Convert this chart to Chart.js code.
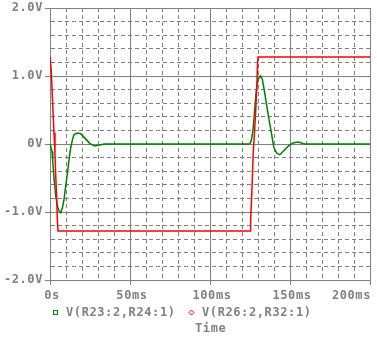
<!DOCTYPE html>
<html>
<head>
<meta charset="utf-8">
<script src="https://cdn.jsdelivr.net/npm/chart.js@4"></script>
<style>
  body { margin: 0; background: #fff; }
  #wrap { width: 377px; height: 337px; }
</style>
</head>
<body>
<div id="wrap"><canvas id="scope" width="377" height="337"></canvas></div>
<script>
// Time in ms, voltage in V
const greenTimes = [0, 1.25, 1.7, 2.5, 3.6, 4.6, 5.6, 6.7, 7.75, 8.75, 9.8, 10.9, 11.9, 12.9, 14, 15, 17.1, 19.2, 21.7, 24.8, 27.9, 31, 34,
    124.8, 125.9, 126.9, 127.9, 129, 130, 131.5, 132.75, 134.2, 135.2, 136.9, 138.4, 139.8, 141.5, 143.6, 145.6, 148.75, 151.9, 155, 159.2, 200];
const greenValues = [0, -0.11, -0.25, -0.5, -0.77, -0.91, -0.98, -1.01, -0.94, -0.82, -0.62, -0.43, -0.23, -0.06, 0.06, 0.14, 0.16, 0.15, 0.09, 0.01, -0.03, -0.015, 0,
    0, 0.06, 0.21, 0.5, 0.8, 0.95, 1.0, 0.95, 0.75, 0.6, 0.36, 0.16, -0.04, -0.13, -0.16, -0.11, -0.035, 0.015, 0.03, 0, 0];

const redTimes = [0, 0.7, 1.3, 1.9, 2.5, 3.1, 3.6, 4.2, 4.6, 5,
    125, 125.4, 126, 126.5, 127, 127.8, 128.5, 129.2, 129.6, 130, 200];
const redValues = [1.28, 1.11, 0.8, 0.46, 0.17, -0.14, -0.48, -0.8, -1.12, -1.28,
    -1.28, -1.12, -0.8, -0.49, -0.14, 0.17, 0.46, 0.8, 1.11, 1.28, 1.28];

const seriesNames = ['V(R23:2,R24:1)', 'V(R26:2,R32:1)'];
const xTickLabels = ['0s', '50ms', '100ms', '150ms', '200ms'];
const yTickLabels = ['-2.0V', '-1.0V', '0V', '1.0V', '2.0V'];
const xAxisTitle = 'Time';

const GRAY = '#808080';
const GREEN = '#008000';
const RED = '#ff0000';
const FONT = 'bold 12px "DejaVu Sans Mono"';

function toPoints(xs, ys) {
    return xs.map((x, i) => ({x: x, y: ys[i]}));
}

function isMajor(v, step) {
    const r = v / step;
    return Math.abs(r - Math.round(r)) < 1e-6;
}

// text for tick labels, legend and axis title
const labelPlugin = {
    id: 'labels',
    afterDraw(chart) {
        const ctx = chart.ctx;
        const xs = chart.scales.x;
        const ys = chart.scales.y;
        ctx.save();
        ctx.font = FONT;
        ctx.fillStyle = GRAY;
        ctx.letterSpacing = '0.6px';
        ctx.textBaseline = 'middle';

        ctx.textAlign = 'right';
        yTickLabels.forEach((t, i) => {
            ctx.fillText(t, 43, ys.getPixelForValue(-2 + i));
        });

        xTickLabels.forEach((t, i) => {
            const px = xs.getPixelForValue(i * 50);
            if (i === xTickLabels.length - 1) {
                ctx.textAlign = 'right';
                ctx.fillText(t, px + 1, 296);
            } else {
                ctx.textAlign = 'center';
                ctx.fillText(t, px + 2, 296);
            }
        });

        // legend
        ctx.textAlign = 'left';
        ctx.fillText(seriesNames[0], 66, 313);
        ctx.fillText(seriesNames[1], 202, 313);
        ctx.fillText(xAxisTitle, 195, 329);

        ctx.lineWidth = 1;
        ctx.strokeStyle = GREEN;
        ctx.strokeRect(53.5, 310.5, 4, 4);
        ctx.strokeStyle = RED;
        ctx.beginPath();
        ctx.moveTo(191.5, 310);
        ctx.lineTo(194, 312.5);
        ctx.lineTo(191.5, 315);
        ctx.lineTo(189, 312.5);
        ctx.closePath();
        ctx.stroke();
        ctx.restore();
    }
};

const scopeChart = new Chart(document.getElementById('scope'), {
    type: 'line',
    data: {
        datasets: [{
            label: seriesNames[0],
            data: toPoints(greenTimes, greenValues),
            borderColor: GREEN,
            borderWidth: 1.5,
            pointRadius: 0,
            tension: 0,
            order: 1
        }, {
            label: seriesNames[1],
            data: toPoints(redTimes, redValues),
            borderColor: RED,
            borderWidth: 1.5,
            pointRadius: 0,
            tension: 0,
            order: 0
        }]
    },
    options: {
        responsive: false,
        animation: false,
        layout: {
            padding: {left: 45, top: 8, right: 7, bottom: 52}
        },
        plugins: {
            legend: {display: false},
            tooltip: {enabled: false}
        },
        scales: {
            x: {
                type: 'linear',
                min: 0,
                max: 200,
                ticks: {display: false, stepSize: 10, maxTicksLimit: 100},
                grid: {
                    color: GRAY,
                    lineWidth: 1,
                    drawTicks: true,
                    tickLength: 5,
                    tickColor: (c) => (c.tick && isMajor(c.tick.value, 50)) ? GRAY : 'rgba(0,0,0,0)'
                },
                border: {
                    color: GRAY,
                    dash: (c) => (c.tick && !isMajor(c.tick.value, 50)) ? [4, 3] : []
                }
            },
            y: {
                min: -2,
                max: 2,
                ticks: {display: false, stepSize: 0.2, maxTicksLimit: 100},
                grid: {
                    color: GRAY,
                    lineWidth: 1,
                    drawTicks: true,
                    tickLength: 5,
                    tickColor: (c) => (c.tick && isMajor(c.tick.value, 1)) ? GRAY : 'rgba(0,0,0,0)'
                },
                border: {
                    color: GRAY,
                    dash: (c) => (c.tick && !isMajor(c.tick.value, 1)) ? [4, 3] : []
                }
            }
        }
    },
    plugins: [labelPlugin]
});
</script>
</body>
</html>
